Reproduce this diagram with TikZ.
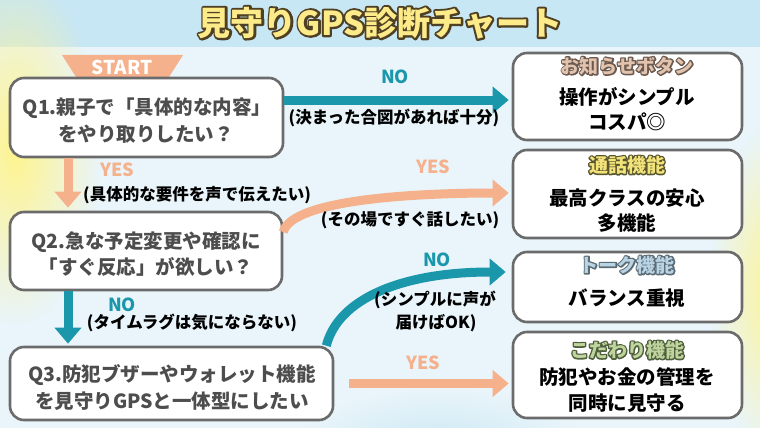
\documentclass[tikz,border=0pt]{standalone}
\usepackage{fontspec}
\setmainfont{Noto Sans CJK JP}
\usetikzlibrary{arrows.meta,fadings}
\definecolor{bgblue}{HTML}{C8E7F4}
\definecolor{tealc}{HTML}{1B97AC}
\definecolor{salmon}{HTML}{F5B08C}
\definecolor{boxline}{HTML}{6B6B6B}
\definecolor{qtext}{HTML}{4D4D4D}
\definecolor{softyellow}{HTML}{FFF48F}
\definecolor{tfill}{HTML}{FDEB8A}
\definecolor{aFill}{HTML}{E2C4AE}
\definecolor{bFill}{HTML}{F3E37A}
\definecolor{cFill}{HTML}{B9D4E4}
\definecolor{dFill}{HTML}{BFD59E}
\tikzfading[name=softedge, inner color=transparent!0, outer color=transparent!100]
% stroke-only text: #1 stroke rgb (pdf numbers), #2 stroke width, #3 text
\newcommand\strk[3]{\special{pdf:literal direct 1 Tr 1 j #2 w #1 RG}#3\special{pdf:literal direct 0 Tr 0 j 0.4 w}}
\tikzset{
  qbox/.style={draw=boxline, line width=2.6pt, fill=white, rounded corners=14pt, inner sep=0pt},
  qtxt/.style={inner sep=0pt, text=qtext, font=\fontsize{19.5}{19.5}\selectfont\bfseries},
  rtxt/.style={inner sep=0pt, text=black, font=\fontsize{19.5}{19.5}\selectfont\bfseries},
  rtitle/.style={inner sep=0pt, font=\fontsize{19}{19}\selectfont\bfseries},
  lbl/.style={inner sep=0pt, text=black, font=\fontsize{16.5}{16.5}\selectfont\bfseries},
  yn/.style={inner sep=0pt, font=\fontsize{18}{18}\selectfont\bfseries},
  arr/.style={line width=9pt, -{Triangle[length=16pt,width=26pt]}},
}
\begin{document}
\begin{tikzpicture}[x=1pt,y=-1pt]
\useasboundingbox (0,0) rectangle (760,428);
% background
\fill[bgblue] (0,0) rectangle (760,428);
\fill[white,opacity=0.6] (0,47) rectangle (760,428);
\fill[softyellow,path fading=softedge] (15,150) ellipse [x radius=85, y radius=175];
\fill[softyellow,path fading=softedge] (780,290) ellipse [x radius=70, y radius=170];
\fill[bgblue,path fading=softedge,opacity=0.8] (440,440) ellipse [x radius=140, y radius=50];
% title
\node[inner sep=0pt,font=\fontsize{33}{33}\selectfont\bfseries] (titleo) at (380,23)
  {\strk{0.31 0.25 0.14}{4.2}{見守りGPS診断チャート}};
\node[inner sep=0pt,text=tfill,font=\fontsize{33}{33}\selectfont\bfseries] (title) at (380,23)
  {見守りGPS診断チャート};
% start banner
\fill[salmon] (62,55) -- (183,55) -- (169,77) -- (183,99) -- (62,99) -- (76,77) -- cycle;
\node[inner sep=0pt,text=white,font=\fontsize{19}{19}\selectfont\bfseries] (start) at (122,67) {START};
% question boxes
\node[qbox, minimum width=273pt, minimum height=79pt] (q1) at (146.5,117.5) {};
\node[qbox, minimum width=272pt, minimum height=78pt] (q2) at (146,251) {};
\node[qbox, minimum width=323pt, minimum height=73pt] (q3) at (171.5,383.5) {};
\node[qtxt] (q1a) at (147,108) {Q1.親子で「具体的な内容」};
\node[qtxt] (q1b) at (146,134) {をやり取りしたい？};
\node[qtxt] (q2a) at (146,242) {Q2.急な予定変更や確認に};
\node[qtxt] (q2b) at (146,267) {「すぐ反応」が欲しい？};
\node[qtxt] (q3a) at (172,375) {Q3.防犯ブザーやウォレット機能};
\node[qtxt] (q3b) at (172,401) {を見守りGPSと一体型にしたい};
% result boxes
\node[qbox, minimum width=229pt, minimum height=87pt] (r1) at (627.5,96.5) {};
\node[qbox, minimum width=229pt, minimum height=88pt] (r2) at (627.5,194) {};
\node[qbox, minimum width=229pt, minimum height=70pt] (r3) at (627.5,287) {};
\node[qbox, minimum width=229pt, minimum height=86pt] (r4) at (627.5,375) {};
\node[rtitle] (r1to) at (627,66) {\strk{0.42 0.35 0.31}{2.8}{お知らせボタン}};
\node[rtitle,text=aFill] (r1t) at (627,66) {お知らせボタン};
\node[rtitle] (r2to) at (627,165) {\strk{0.35 0.34 0.19}{2.8}{通話機能}};
\node[rtitle,text=bFill] (r2t) at (627,165) {通話機能};
\node[rtitle] (r3to) at (627,265) {\strk{0.36 0.42 0.45}{2.8}{トーク機能}};
\node[rtitle,text=cFill] (r3t) at (627,265) {トーク機能};
\node[rtitle] (r4to) at (627,350) {\strk{0.31 0.37 0.24}{2.8}{こだわり機能}};
\node[rtitle,text=dFill] (r4t) at (627,350) {こだわり機能};
\node[rtxt] (r1a) at (627,97) {操作がシンプル};
\node[rtxt] (r1b) at (627,122) {コスパ◎};
\node[rtxt] (r2a) at (627,198) {最高クラスの安心};
\node[rtxt] (r2b) at (627,223) {多機能};
\node[rtxt] (r3a) at (627,298) {バランス重視};
\node[rtxt] (r4a) at (627,377) {防犯やお金の管理を};
\node[rtxt] (r4b) at (627,403) {同時に見守る};
% connectors
\coordinate (colx) at (68,0);
\draw[arr,tealc,shorten >=3pt] (q1.east |- 0,100) -- (r1.west |- 0,100);
\draw[arr,salmon,shorten >=3pt] (q1.south -| colx) -- (q2.north -| colx);
\draw[arr,tealc,shorten >=2pt] (q2.south -| colx) -- (q3.north -| colx);
\draw[arr,salmon,shorten >=3pt] ([yshift=19pt]q2.east) .. controls +(8,-32) and +(-100,0) .. (r2.west |- 0,193);
\draw[arr,tealc,shorten >=6pt] ([xshift=-8pt]q3.north east) .. controls +(12,-47) and +(-110,0) .. (r3.west |- 0,272);
\draw[arr,salmon,shorten >=3pt] ([xshift=15pt]q3.east) -- (q3.east -| r4.west);
% labels
\node[yn,text=tealc] (no1) at (395,77) {NO};
\node[lbl] (l1) at (394,118) {(決まった合図があれば十分)};
\node[yn,text=salmon] (yes1) at (117,170) {YES};
\node[lbl] (l2) at (197,195) {(具体的な要件を声で伝えたい)};
\node[yn,text=salmon] (yes2) at (433,167) {YES};
\node[lbl] (l3) at (410,220) {(その場ですぐ話したい)};
\node[yn,text=tealc] (no2) at (122,305) {NO};
\node[lbl] (l4) at (192,323) {(タイムラグは気にならない)};
\node[yn,text=tealc] (no3) at (437,260) {NO};
\node[lbl] (l5) at (435,300) {(シンプルに声が};
\node[lbl] (l6) at (436,323) {届けばOK)};
\node[yn,text=salmon] (yes3) at (423,363) {YES};
\end{tikzpicture}
\end{document}
